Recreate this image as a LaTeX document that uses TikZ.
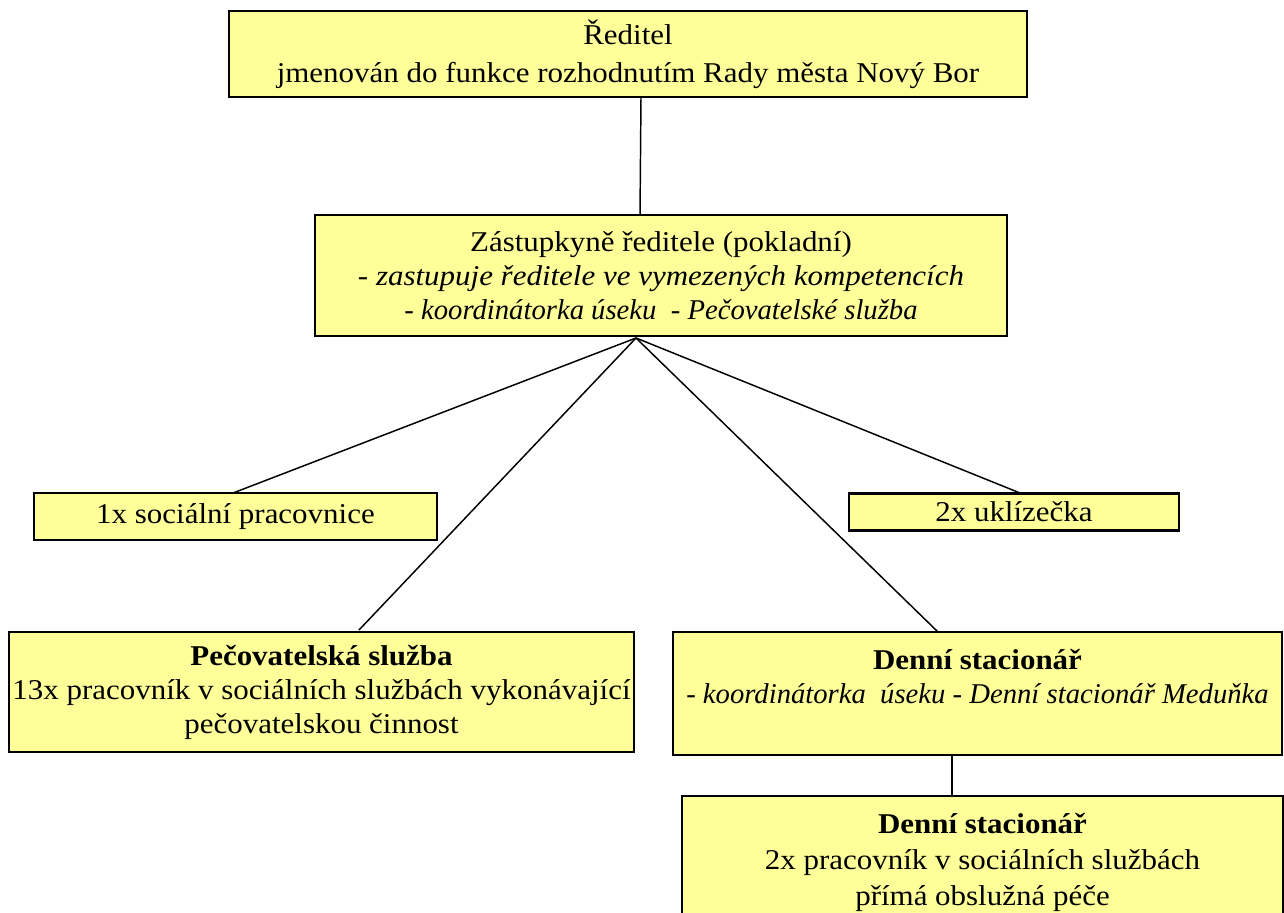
\documentclass[tikz,border=0pt]{standalone}
\usepackage{fontspec}
\setmainfont[FakeStretch=1.08]{Liberation Serif}
\newfontfamily\plainfam{Liberation Serif}
\definecolor{boxfill}{HTML}{FFFF99}
\newcommand\boxfont{\fontsize{21.5}{25.5}\selectfont}
\tikzset{
  orgbox/.style={draw, line width=1.8pt, fill=boxfill, inner sep=0pt, outer sep=0pt,
    align=center, font=\boxfont},
  link/.style={line width=1.1pt}
}
\begin{document}
\begin{tikzpicture}[x=0.75pt, y=-0.75pt]
\useasboundingbox (0,0) rectangle (1284,913);
\node[orgbox, minimum width=798*0.75pt, minimum height=86*0.75pt] (dir) at (628,54)
  {Ředitel\\[3pt] jmenován do funkce rozhodnutím Rady města Nový Bor};
\node[orgbox, minimum width=692*0.75pt, minimum height=121*0.75pt] (dep) at (661,275.5)
  {Zástupkyně ředitele (pokladní)\\ \textit{- zastupuje ředitele ve vymezených kompetencích}\\ {\plainfam\itshape - koordinátorka úseku~ - Pečovatelské služba}};
\node[orgbox, minimum width=403*0.75pt, minimum height=47*0.75pt] (soc) at (235.5,516.5)
  {1x sociální pracovnice};
\node[orgbox, minimum width=330*0.75pt, minimum height=37*0.75pt] (ukl) at (1014,512)
  {2x uklízečka};
\node[orgbox, minimum width=625*0.75pt, minimum height=120*0.75pt] (pec) at (321.5,692)
  {\textbf{Pečovatelská služba}\\ 13x pracovník v sociálních službách vykonávající\\ pečovatelskou činnost};
\node[orgbox, minimum width=609*0.75pt, minimum height=123*0.75pt] (den) at (977.5,693.5)
  {\textbf{Denní stacionář}\\ {\plainfam\itshape - koordinátorka~ úseku - Denní stacionář Meduňka}\\ ~};
\node[orgbox, minimum width=601*0.75pt, minimum height=132*0.75pt,
      font=\fontsize{21.5}{27}\selectfont] (dst) at (982.5,862)
  {\textbf{Denní stacionář}\\ 2x pracovník v sociálních službách\\ přímá obslužná péče};
% attachment points
\coordinate (dirB) at (641,97);
\coordinate (depT) at (640,215);
\coordinate (apex) at (636,338);
\coordinate (socT) at (233,493);
\coordinate (uklT) at (1020,493);
\coordinate (pecT) at (359,630);
\coordinate (denT) at (937,631);
\coordinate (denB) at (952,755);
\coordinate (dstT) at (952,796);
\draw[link] (dirB) -- (depT);
\draw[link] (apex) -- (socT);
\draw[link] (apex) -- (uklT);
\draw[link] (apex) -- (pecT);
\draw[link] (apex) -- (denT);
\draw[link] (denB) -- (dstT);
\end{tikzpicture}
\end{document}
